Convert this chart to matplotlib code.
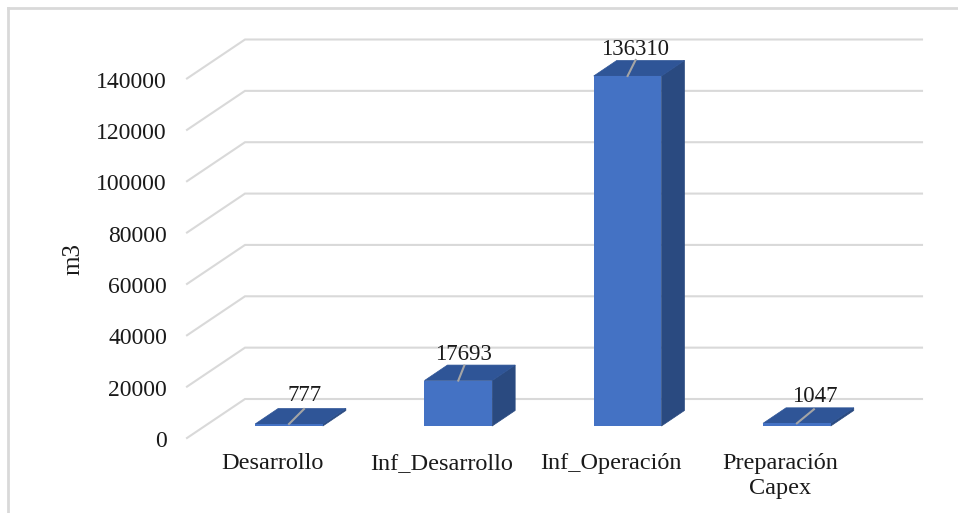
import matplotlib
matplotlib.use("Agg")
import matplotlib.pyplot as plt
from matplotlib.lines import Line2D
from matplotlib.patches import Polygon

categories = ["Desarrollo", "Inf_Desarrollo", "Inf_Operación", "Preparación\nCapex"]
volumes = [777, 17693, 136310, 1047]
y_ticks = [0, 20000, 40000, 60000, 80000, 100000, 120000, 140000]

WIDTH, HEIGHT = 958, 513
CAT_STEP = 169.3  # pixels between categories
FIRST_CAT = 289   # pixel x of first bar centre
BASE_Y = 426      # pixel y of the bar baseline
PX_PER_UNIT = 359.5 / 140000
BAR_WIDTH = 0.4

FRONT = "#4472C4"
TOP = "#2F5597"
SIDE = "#2A4A80"
GRID = "#D9D9D9"
LEADER = "#A5A5A5"
TEXT = "#1a1a1a"

# leader line shift and label shift for each bar, pixels
leader_dx = [15, 6, 8, 17]
leader_dy = [15, 15, 16, 14]
label_dx = [16, 5, 7, 18]
label_dy = [29, 26, 26, 27]

plt.rcParams["font.family"] = ["Liberation Serif", "DejaVu Serif"]


def dx(px):
    return px / CAT_STEP


def dy(px):
    return px / PX_PER_UNIT


fig = plt.figure(figsize=(WIDTH / 100, HEIGHT / 100), dpi=100)
ax = fig.add_axes([0, 0, 1, 1])
ax.set_xlim(dx(-FIRST_CAT), dx(WIDTH - FIRST_CAT))
ax.set_ylim(dy(BASE_Y - HEIGHT), dy(BASE_Y))
ax.axis("off")

# chart frame, no right or bottom edge in the picture
fig.add_artist(Line2D([8 / WIDTH, 8 / WIDTH], [0, 1 - 8 / HEIGHT], color=GRID, lw=2))
fig.add_artist(Line2D([8 / WIDTH, 1], [1 - 8 / HEIGHT, 1 - 8 / HEIGHT], color=GRID, lw=2))

# gridlines run from the left wall to the back wall
x_front = dx(187 - FIRST_CAT)
x_back = dx(245 - FIRST_CAT)
x_right = dx(922 - FIRST_CAT)
for tick in y_ticks:
    ax.plot([x_front, x_back, x_right], [tick - dy(12), tick + dy(27), tick + dy(27)],
            color=GRID, lw=1.5, zorder=1, solid_joinstyle="miter")
    ax.text(dx(167 - FIRST_CAT), tick - dy(15.5), str(tick), ha="right", va="center",
            fontsize=17, color=TEXT)

depth_x = dx(23)
depth_y = dy(15.5)
half = BAR_WIDTH / 2

for i, (name, value) in enumerate(zip(categories, volumes)):
    left, right = i - half, i + half
    ax.add_patch(Polygon([(right, 0), (right + depth_x, depth_y),
                          (right + depth_x, value + depth_y), (right, value)],
                         facecolor=SIDE, edgecolor=SIDE, lw=0.5, zorder=3))
    ax.add_patch(Polygon([(left, value), (right, value),
                          (right + depth_x, value + depth_y), (left + depth_x, value + depth_y)],
                         facecolor=TOP, edgecolor=TOP, lw=0.5, zorder=3))
    ax.bar(i, value, width=BAR_WIDTH, color=FRONT, linewidth=0, zorder=4)

    ax.plot([i, i + dx(leader_dx[i])], [value, value + dy(leader_dy[i])],
            color=LEADER, lw=1.5, zorder=6)
    ax.text(i + dx(label_dx[i]), value + dy(label_dy[i]), str(value), ha="center", va="center",
            fontsize=16.5, color=TEXT, zorder=7)
    # one text per line so every category shares a baseline
    for n, line in enumerate(name.split("\n")):
        ax.text(i - dx(17), dy(BASE_Y - 469 - 25 * n), line, ha="center", va="baseline",
                fontsize=17.5, color=TEXT)

ax.text(dx(73 - FIRST_CAT), dy(BASE_Y - 259), "m3", rotation=90, ha="center", va="center",
        fontsize=18, color=TEXT)

fig.savefig("out.png", dpi=100)
